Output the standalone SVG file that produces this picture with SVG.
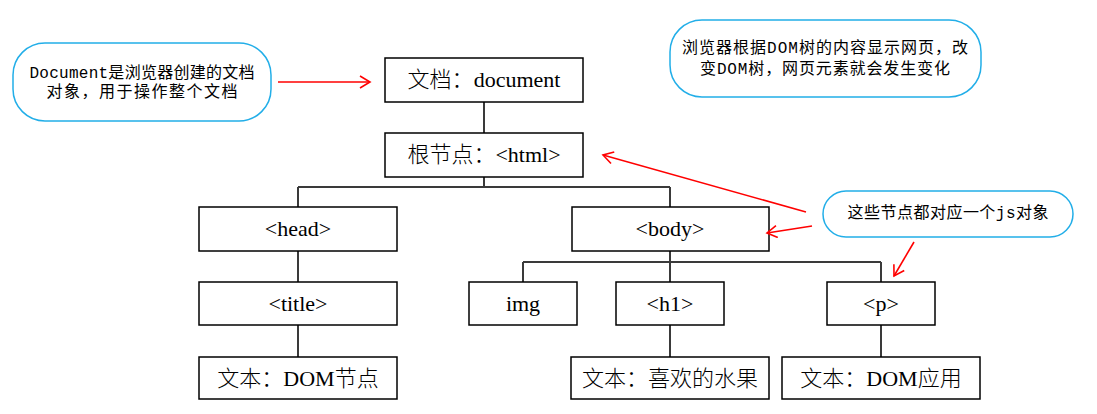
<svg xmlns="http://www.w3.org/2000/svg" width="1097" height="414" viewBox="0 0 1097 414">
<style>
.box{fill:#fff;stroke:#000;stroke-width:1.5}
.nt{font-family:"Liberation Serif","Noto Sans CJK SC",serif;font-size:22px;fill:#000;text-anchor:middle}
.zh{font-family:"Noto Sans CJK SC",sans-serif;font-weight:300}
.en{font-family:"Liberation Serif",serif}
.call{fill:#fff;stroke:#22aee8;stroke-width:1.5}
.ct{font-family:"Liberation Mono","Noto Sans CJK SC",monospace;font-size:16px;fill:#000;text-anchor:middle}
.conn{fill:none;stroke:#3a3a3a;stroke-width:2}
.red{fill:none;stroke:#ff0000;stroke-width:1.6;marker-end:url(#ah)}
</style>
<defs>
<marker id="ah" markerWidth="14" markerHeight="14" refX="12" refY="7" orient="auto" markerUnits="userSpaceOnUse">
<path d="M2,1 L12,7 L2,13" fill="none" stroke="#ff0000" stroke-width="1.6"/>
</marker>
</defs>
<rect width="1097" height="414" fill="#fff"/>
<g id="connectors">
<path class="conn" d="M484,102 V133"/>
<path class="conn" d="M484,177 V187 M298,187 H670 M298,187 V207 M670,187 V207"/>
<path class="conn" d="M298,251 V282 M298,325 V357"/>
<path class="conn" d="M670,251 V262 M523,262 H881 M523,262 V282 M670,262 V282 M881,262 V282"/>
<path class="conn" d="M670,325 V357 M881,325 V357"/>
</g>
<g id="document"><rect class="box" x="385" y="58" width="198" height="44"/><text class="nt" x="484" y="87"><tspan class="zh">文档：</tspan><tspan class="en">document</tspan></text></g>
<g id="html"><rect class="box" x="385" y="133" width="198" height="44"/><text class="nt" x="484" y="162"><tspan class="zh">根节点：</tspan><tspan class="en">&lt;html&gt;</tspan></text></g>
<g id="head"><rect class="box" x="199" y="207" width="198" height="44"/><text class="nt" x="298" y="236">&lt;head&gt;</text></g>
<g id="body"><rect class="box" x="572" y="207" width="197" height="44"/><text class="nt" x="670" y="236">&lt;body&gt;</text></g>
<g id="title"><rect class="box" x="199" y="282" width="198" height="43"/><text class="nt" x="298" y="311">&lt;title&gt;</text></g>
<g id="img"><rect class="box" x="469" y="282" width="108" height="43"/><text class="nt" x="523" y="311">img</text></g>
<g id="h1"><rect class="box" x="616" y="282" width="108" height="43"/><text class="nt" x="670" y="311">&lt;h1&gt;</text></g>
<g id="p"><rect class="box" x="827" y="282" width="108" height="43"/><text class="nt" x="881" y="311">&lt;p&gt;</text></g>
<g id="text-dom"><rect class="box" x="199" y="357" width="198" height="42"/><text class="nt" x="298" y="386"><tspan class="zh">文本：</tspan><tspan class="en">DOM</tspan><tspan class="zh">节点</tspan></text></g>
<g id="text-fruit"><rect class="box" x="571" y="357" width="198" height="42"/><text class="nt" x="670" y="386"><tspan class="zh">文本：喜欢的水果</tspan></text></g>
<g id="text-app"><rect class="box" x="782" y="357" width="198" height="42"/><text class="nt" x="881" y="386"><tspan class="zh">文本：</tspan><tspan class="en">DOM</tspan><tspan class="zh">应用</tspan></text></g>
<g id="callout-document"><rect class="call" x="13" y="43" width="258" height="78" rx="32" ry="32"/>
<text class="ct" x="142" y="78" textLength="225" lengthAdjust="spacing">Document是浏览器创建的文档</text>
<text class="ct" x="142" y="97" textLength="191" lengthAdjust="spacing">对象，用于操作整个文档</text></g>
<g id="callout-dom"><rect class="call" x="670" y="20" width="311" height="77" rx="32" ry="32"/>
<text class="ct" x="825" y="53" textLength="286" lengthAdjust="spacing">浏览器根据DOM树的内容显示网页，改</text>
<text class="ct" x="825" y="74" textLength="250" lengthAdjust="spacing">变DOM树，网页元素就会发生变化</text></g>
<g id="callout-js"><rect class="call" x="823" y="191" width="250" height="46" rx="23" ry="23"/>
<text class="ct" x="948" y="218" textLength="201" lengthAdjust="spacing">这些节点都对应一个js对象</text></g>
<g id="arrows">
<path class="red" d="M278,82 H370"/>
<path class="red" d="M806,212 L603,155"/>
<path class="red" d="M812,226 L767,233"/>
<path class="red" d="M914,242 L894,276"/>
</g>
</svg>
